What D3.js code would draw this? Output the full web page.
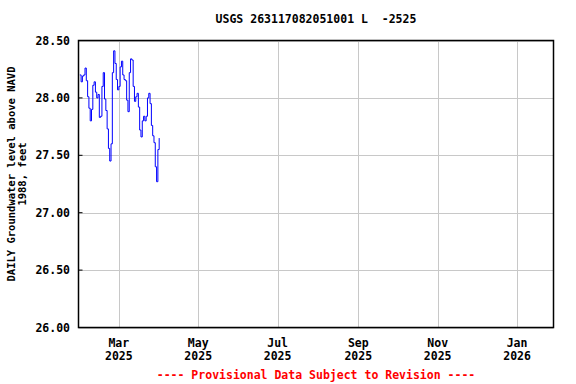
<!DOCTYPE html>
<html><head><meta charset="utf-8">
<script src="https://cdn.jsdelivr.net/npm/d3@7"></script>
<style>
body{margin:0;background:#fff;}
text{font-family:"DejaVu Sans Mono",monospace;font-weight:bold;}
</style></head>
<body><svg id="c" width="576" height="384"></svg>
<script>
const title = "USGS 263117082051001 L  -2525";
const yLabel = ["DAILY Groundwater level above NAVD", "1988, feet"];
const footer = "---- Provisional Data Subject to Revision ----";
const startDate = "2025-01-30";
const levels = [28.20,28.14,28.19,28.20,28.26,28.15,28.01,27.91,27.80,27.90,
28.11,28.14,28.05,28.00,28.03,27.83,27.84,28.10,28.22,27.99,
27.89,27.73,27.56,27.45,27.60,28.22,28.41,28.30,28.16,28.07,
28.10,28.27,28.32,28.20,28.16,28.15,27.98,27.88,28.22,28.34,
28.33,28.10,27.97,28.01,28.04,27.92,27.72,27.66,27.80,27.84,
27.80,27.84,28.00,28.04,27.95,27.76,27.67,27.61,27.40,27.27,
27.55,27.65];
const yTicks = [26.0,26.5,27.0,27.5,28.0,28.5];
const xTicks = ["2025-03-01","2025-05-01","2025-07-01","2025-09-01","2025-11-01","2026-01-01"];
const xDomain = ["2025-01-29","2026-01-29"];

const parse = d3.utcParse("%Y-%m-%d");
const t0 = parse(startDate);
const data = levels.map((v,i)=>({date:d3.utcDay.offset(t0,i), v}));

const svg = d3.select("#c");
const L=78.5,R=553.5,T=40.5,B=327.5;
const x = d3.scaleUtc().domain(xDomain.map(parse)).range([L,R]);
const y = d3.scaleLinear().domain([26,28.5]).range([B,T]);

// grid
svg.append("g").selectAll("line.v").data(xTicks.map(parse)).join("line")
  .attr("x1",d=>Math.round(x(d))+0.5).attr("x2",d=>Math.round(x(d))+0.5)
  .attr("y1",T).attr("y2",B).attr("stroke","#c8c8c8").attr("stroke-width",1);
svg.append("g").selectAll("line.h").data(yTicks).join("line")
  .attr("x1",L).attr("x2",R).attr("y1",d=>Math.round(y(d))+0.5).attr("y2",d=>Math.round(y(d))+0.5)
  .attr("stroke","#c8c8c8").attr("stroke-width",1);

// data line
svg.append("path").datum(data)
  .attr("fill","none").attr("stroke","#0000ff").attr("stroke-width",1)
  .attr("d",d3.line().x(d=>x(d.date)).y(d=>y(d.v)).curve(d3.curveStepAfter));

// frame
svg.append("rect").attr("x",L).attr("y",T).attr("width",R-L).attr("height",B-T)
  .attr("fill","none").attr("stroke","#000").attr("stroke-width",1.5);

// y tick labels
svg.append("g").selectAll("text").data(yTicks).join("text")
  .attr("x",70).attr("y",d=>y(d)+4).attr("text-anchor","end")
  .attr("font-size","11.5px").text(d=>d3.format(".2f")(d));
// small ticks
svg.append("g").selectAll("line").data(yTicks).join("line")
  .attr("x1",L).attr("x2",L+4).attr("y1",d=>y(d)).attr("y2",d=>y(d)).attr("stroke","#000");

// x tick labels
const fm = d3.utcFormat("%b"), fy = d3.utcFormat("%Y");
const xt = svg.append("g").selectAll("g").data(xTicks.map(parse)).join("g");
xt.append("text").attr("x",d=>x(d)).attr("y",347).attr("text-anchor","middle")
  .attr("font-size","11.5px").text(d=>fm(d));
xt.append("text").attr("x",d=>x(d)).attr("y",360).attr("text-anchor","middle")
  .attr("font-size","11.5px").text(d=>fy(d));

// title
svg.append("text").attr("x",(L+R)/2).attr("y",23).attr("text-anchor","middle")
  .attr("font-size","11.5px").attr("xml:space","preserve").style("white-space","pre").text(title);

// y label
const yl = svg.append("g").attr("transform",`translate(0,${(T+B)/2-10}) rotate(-90)`);
yl.append("text").attr("x",0).attr("y",15).attr("text-anchor","middle").attr("font-size","10.5px").text(yLabel[0]);
yl.append("text").attr("x",0).attr("y",26).attr("text-anchor","middle").attr("font-size","10.5px").text(yLabel[1]);

// footer
svg.append("text").attr("x",(L+R)/2).attr("y",379).attr("text-anchor","middle")
  .attr("font-size","11.5px").attr("fill","#ff0000").style("white-space","pre").text(footer);
</script></body></html>
